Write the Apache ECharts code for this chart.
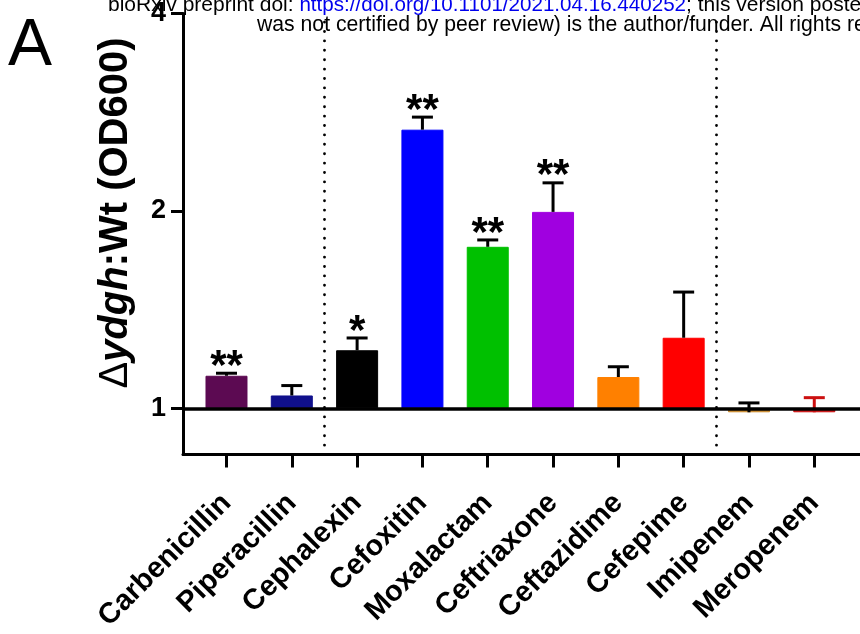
<!DOCTYPE html>
<html>
<head>
<meta charset="utf-8">
<script src="https://cdn.jsdelivr.net/npm/echarts@6/dist/echarts.min.js"></script>
<style>html,body{margin:0;padding:0;background:#fff}#c{width:860px;height:634px}</style>
</head>
<body>
<div id="c"></div>
<script>
const categories = ['Carbenicillin', 'Piperacillin', 'Cephalexin', 'Cefoxitin', 'Moxalactam', 'Ceftriaxone', 'Ceftazidime', 'Cefepime', 'Imipenem', 'Meropenem'];
const means = [1.121, 1.046, 1.226, 2.660, 1.763, 1.993, 1.116, 1.281, 0.986, 0.986];
const upperErr = [1.131, 1.083, 1.280, 2.780, 1.806, 2.207, 1.157, 1.504, 1.019, 1.038];
const stars = ['**', '', '*', '**', '**', '**', '', '', '', ''];
const yTicks = [1, 2, 4];
const separators = [1.5, 7.5];

const barColors = ['#5c0a52', '#10108c', '#000000', '#0000ff', '#00c000', '#a000e0', '#ff8000', '#ff0000', '#c8882a', '#cc1010'];
const errColors = ['#000', '#000', '#000', '#000', '#000', '#000', '#000', '#000', '#000', '#cc1010'];

const FONT = '"Liberation Sans", Arial, Helvetica, sans-serif';
const idx = categories.map((c, i) => i);

const chart = echarts.init(document.getElementById('c'), null, { renderer: 'canvas' });

const option = {
  animation: false,
  backgroundColor: '#fff',
  grid: { left: 183, right: 0, top: 8, bottom: 178, containLabel: false },
  xAxis: {
    type: 'value',
    min: -0.666,
    max: 9.70,
    axisLine: { show: true, onZero: false, lineStyle: { color: '#000', width: 3 } },
    axisTick: { show: true, customValues: idx, length: 13, lineStyle: { color: '#000', width: 3 } },
    axisLabel: {
      customValues: idx,
      formatter: v => categories[Math.round(v)],
      rotate: 45, fontSize: 29, fontWeight: 'bold', color: '#000', fontFamily: FONT, margin: 44
    },
    splitLine: { show: false }
  },
  yAxis: {
    type: 'log',
    logBase: 2,
    min: 0.85,
    max: 4,
    axisLine: { show: true, onZero: false, lineStyle: { color: '#000', width: 3 } },
    axisTick: { show: true, customValues: yTicks, length: 12, lineStyle: { color: '#000', width: 3 } },
    axisLabel: { customValues: yTicks, fontSize: 27, fontWeight: 'bold', color: '#000', fontFamily: FONT, margin: 17 },
    splitLine: { show: false },
    name: '{d|Δ}{i|ydgh}{b|:Wt (OD600)}',
    nameLocation: 'middle',
    nameGap: 47,
    nameTextStyle: {
      padding: [0, 0, 0, 42],
      rich: {
        d: { fontSize: 40, fontFamily: FONT, color: '#000' },
        i: { fontSize: 40, fontFamily: FONT, fontStyle: 'italic', fontWeight: 'bold', color: '#000' },
        b: { fontSize: 40, fontFamily: FONT, fontWeight: 'bold', color: '#000' }
      }
    }
  },
  series: [
    {
      type: 'bar',
      barWidth: 42,
      z: 2,
      data: means.map((v, i) => ({ value: [i, v], itemStyle: { color: barColors[i], borderColor: barColors[i], borderWidth: 1 } }))
    },
    {
      type: 'custom',
      z: 3,
      data: upperErr.map((u, i) => [i, u, means[i]]),
      encode: { x: 0, y: 1 },
      renderItem: function (params, api) {
        const i = api.value(0);
        const p1 = api.coord([i, api.value(1)]);
        const p0 = api.coord([i, api.value(2)]);
        const col = errColors[params.dataIndex];
        const children = [
          { type: 'line', shape: { x1: p0[0], y1: p0[1], x2: p1[0], y2: p1[1] }, style: { stroke: col, lineWidth: 3 } },
          { type: 'line', shape: { x1: p1[0] - 10.5, y1: p1[1], x2: p1[0] + 10.5, y2: p1[1] }, style: { stroke: col, lineWidth: 3 } }
        ];
        const s = stars[params.dataIndex];
        if (s) {
          children.push({
            type: 'text',
            x: p1[0], y: p1[1] - 6,
            style: { text: s, fontSize: 42, fontWeight: 'bold', fontFamily: FONT, fill: '#000', align: 'center', verticalAlign: 'middle' }
          });
        }
        return { type: 'group', children: children };
      },
      markLine: {
        silent: true,
        symbol: 'none',
        z: 6,
        label: { show: false },
        data: [
          { yAxis: 1, lineStyle: { color: '#000', width: 3.5, type: 'solid' } }
        ].concat(separators.map(s => ({ xAxis: s, lineStyle: { color: '#000', width: 2.8, type: [0.1, 9.3], cap: 'round' } })))
      }
    }
  ],
  graphic: [
    { type: 'text', x: 8, y: 47, style: { text: 'A', fontSize: 66, fontFamily: FONT, fill: '#000', verticalAlign: 'middle' } },
    {
      type: 'text', x: 108, y: 5,
      style: {
        text: '{a|bioRxiv preprint doi: }{l|https://doi.org/10.1101/2021.04.16.440252}{a|; this version posted}',
        fontSize: 21, fontFamily: FONT, verticalAlign: 'middle',
        rich: { a: { fill: '#000', fontSize: 21, fontFamily: FONT }, l: { fill: '#0000ee', fontSize: 20.6, fontFamily: FONT } }
      }
    },
    {
      type: 'text', x: 257, y: 25,
      style: { text: 'was not certified by peer review) is the author/funder. All rights reserved.', fontSize: 21.2, fontFamily: FONT, fill: '#000', verticalAlign: 'middle' }
    }
  ]
};
chart.setOption(option);
</script>
</body>
</html>
